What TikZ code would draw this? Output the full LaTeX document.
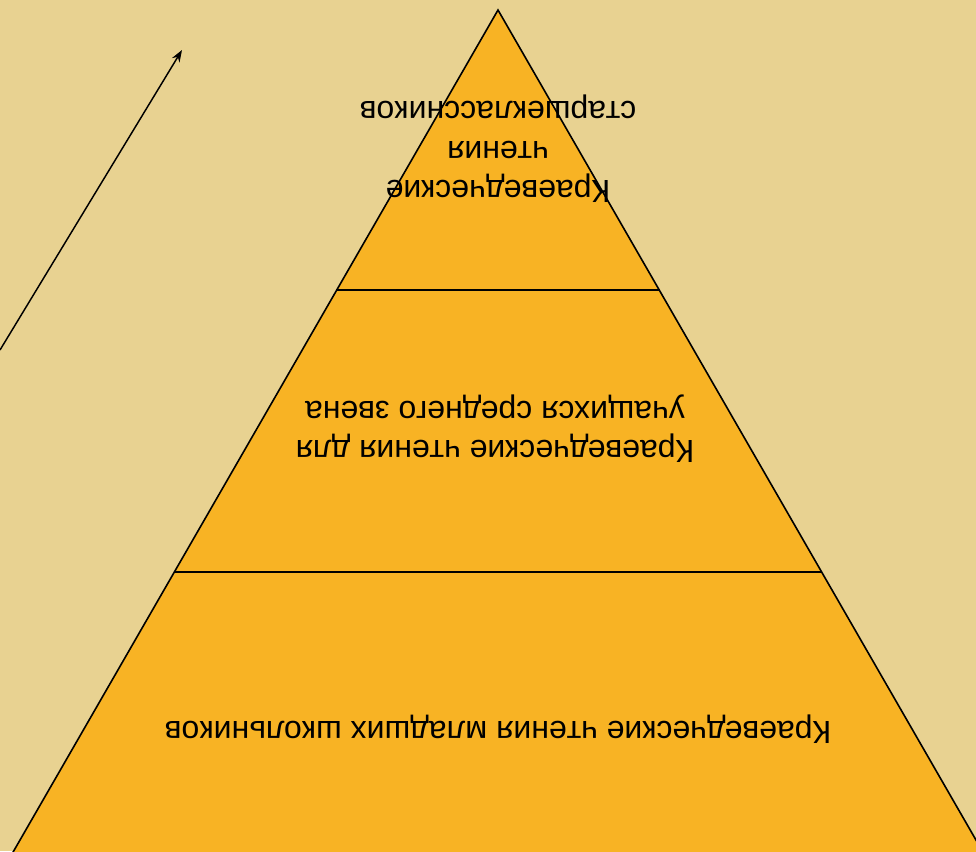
\documentclass[tikz,border=0pt]{standalone}
\usepackage{fontspec}
\setmainfont{Liberation Sans}
\usepackage{xcolor}
\usetikzlibrary{arrows,arrows.meta,positioning}
\definecolor{sand}{HTML}{E8D291}
\definecolor{amber}{HTML}{F8B324}
\tikzset{
  layer/.style={font=\fontsize{24}{29.5}\selectfont,align=center,rotate=180,inner sep=0pt},
  tier/.style={draw,line width=1.2pt},
  pointer/.style={-{Stealth[length=9pt,width=6.5pt]},line width=1.1pt}
}
\begin{document}
\begin{tikzpicture}[x=0.75pt,y=-0.75pt]
  \fill[sand] (0,0) rectangle (976,851);
  \useasboundingbox (0,0) rectangle (976,851);
  \clip (0,0) rectangle (976,851);
  % pyramid
  \coordinate (apex) at (498,10);
  \coordinate (bl) at (8.5,860);
  \coordinate (br) at (987.5,860);
  \filldraw[tier,fill=amber,line join=miter] (apex) -- (bl) -- (br) -- cycle;
  \draw[line width=1.8pt] (336,290) -- (660,290);
  \draw[line width=1.3pt] (174,572) -- (822,572);
  % labels
  \node[layer] (top) at (498,149) {Краеведческие\\чтения\\старшеклассников};
  \node[layer] (mid) at (495,429) {Краеведческие чтения для\\учащихся среднего звена};
  \node[layer] (low) at (498,729) {Краеведческие чтения младших школьников};
  % arrow
  \coordinate (tail) at (0,350);
  \coordinate (head) at (182,50);
  \draw[pointer] (tail) -- (head);
\end{tikzpicture}
\end{document}
